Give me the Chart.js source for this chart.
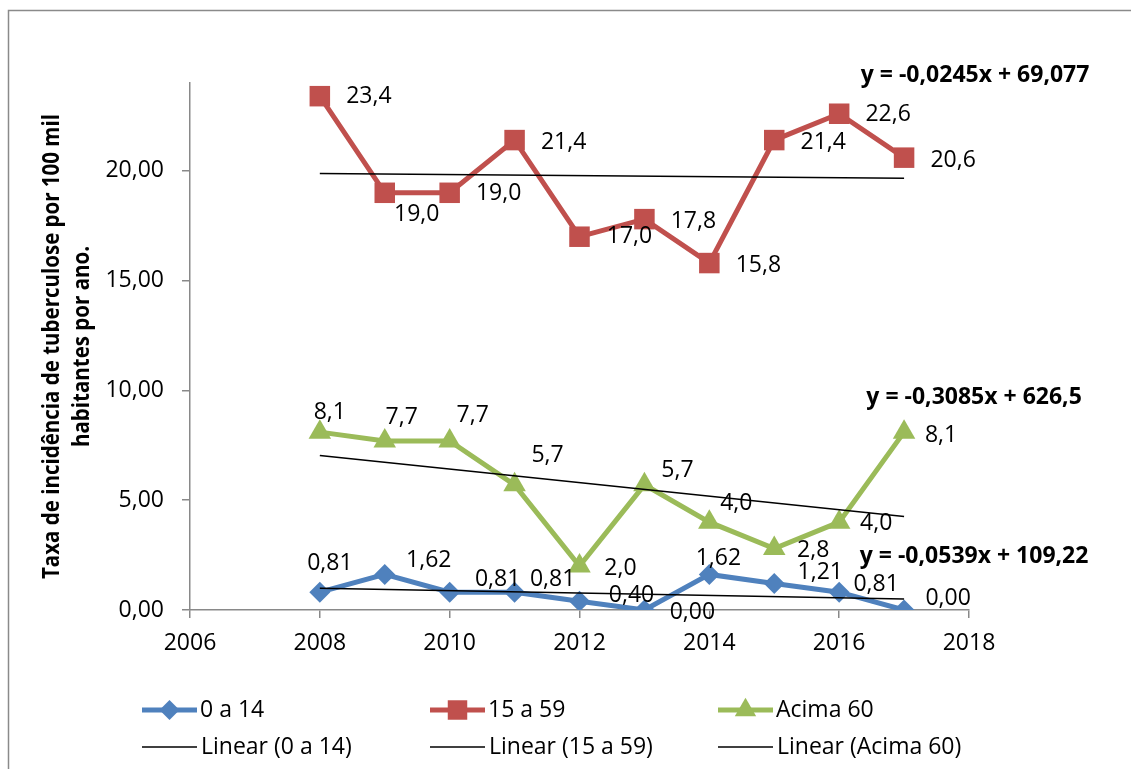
<!DOCTYPE html>
<html>
<head>
<meta charset="utf-8">
<script src="https://cdn.jsdelivr.net/npm/chart.js@4.4.1/dist/chart.umd.min.js"></script>
<style>
html,body{margin:0;padding:0;background:#ffffff;}
#wrap{width:1131px;height:769px;position:relative;overflow:hidden;}
</style>
</head>
<body>
<div id="wrap"><canvas id="c" width="1131" height="769"></canvas></div>
<script>
// ---------- data ----------
const years = [2008, 2009, 2010, 2011, 2012, 2013, 2014, 2015, 2016, 2017];
const serie0a14 = [0.81, 1.62, 0.81, 0.81, 0.40, 0.00, 1.62, 1.21, 0.81, 0.00];
const serie15a59 = [23.4, 19.0, 19.0, 21.4, 17.0, 17.8, 15.8, 21.4, 22.6, 20.6];
const serieAcima60 = [8.1, 7.7, 7.7, 5.7, 2.0, 5.7, 4.0, 2.8, 4.0, 8.1];
const seriesNames = ['0 a 14', '15 a 59', 'Acima 60'];
const trendNames = ['Linear (0 a 14)', 'Linear (15 a 59)', 'Linear (Acima 60)'];
const trendSlopes = [-0.0539, -0.0245, -0.3085];
const trendIntercepts = [109.22, 69.077, 626.5];
const trendLabels = ['y = -0,0539x + 109,22', 'y = -0,0245x + 69,077', 'y = -0,3085x + 626,5'];
const xTickValues = [2006, 2008, 2010, 2012, 2014, 2016, 2018];
const yTickValues = [0, 5, 10, 15, 20];
const yTitleLines = ['Taxa de incidência de tuberculose por 100 mil', 'habitantes por ano.'];

// ---------- styles ----------
const seriesValues = [serie0a14, serie15a59, serieAcima60];
const seriesColors = ['#4F81BD', '#C0504D', '#9BBB59'];
const seriesPointStyles = ['rectRot', 'rect', 'triangle'];
const seriesPointRadius = [10.5, 14.5, 13];
const seriesDecimals = [2, 1, 1];
// label centre offsets (px) relative to each point
const labelOffsets = [
  [[10,-29],[44,-14],[48,-13],[38,-13],[52,-6],[48,2],[9,-16],[46,-11],[37,-8],[44,-12]],
  [[49,0],[32,22],[49,1],[49,2],[50,0],[49,2],[49,2],[49,2],[49,1],[49,3]],
  [[10,-20],[17,-23],[23,-25],[33,-29],[41,2],[33,-14],[27,-19],[39,2],[37,1],[37,3]]
];
const eqOffsets = [[70,-42],[71,-103],[70,-119]];
const FONT = '"Open Sans", "Noto Sans", sans-serif';
const FS = 23;
const axisColor = '#898989';

function fmt(v, d) { return v.toFixed(d).replace('.', ','); }

const datasets = [];
seriesValues.forEach((vals, i) => {
  datasets.push({
    label: seriesNames[i],
    data: years.map((y, k) => ({x: y, y: vals[k]})),
    borderColor: seriesColors[i],
    backgroundColor: seriesColors[i],
    borderWidth: 5,
    pointStyle: seriesPointStyles[i],
    pointRadius: seriesPointRadius[i],
    pointBorderWidth: 0,
    pointBackgroundColor: seriesColors[i],
    tension: 0,
    order: 2,
    isSeries: true,
    seriesIndex: i
  });
});
seriesValues.forEach((vals, i) => {
  const x0 = years[0], x1 = years[years.length - 1];
  datasets.push({
    label: trendNames[i],
    data: [x0, x1].map(x => ({x: x, y: trendSlopes[i] * x + trendIntercepts[i]})),
    borderColor: '#000000',
    borderWidth: 1.5,
    pointRadius: 0,
    tension: 0,
    order: 1,
    isTrend: true,
    seriesIndex: i
  });
});

function drawMarker(ctx, style, x, y, r, color) {
  ctx.save();
  ctx.fillStyle = color;
  ctx.beginPath();
  if (style === 'rect') {
    const s = r * Math.SQRT1_2;
    ctx.rect(x - s, y - s, 2 * s, 2 * s);
  } else if (style === 'rectRot') {
    ctx.moveTo(x - r, y); ctx.lineTo(x, y - r); ctx.lineTo(x + r, y); ctx.lineTo(x, y + r); ctx.closePath();
  } else {
    const a = 2 * Math.PI / 3;
    ctx.moveTo(x, y - r);
    ctx.lineTo(x + Math.sin(a) * r, y - Math.cos(a) * r);
    ctx.lineTo(x + Math.sin(2 * a) * r, y - Math.cos(2 * a) * r);
    ctx.closePath();
  }
  ctx.fill();
  ctx.restore();
}

const extrasPlugin = {
  id: 'extras',
  afterDraw(chart) {
    const ctx = chart.ctx;
    // outer frame
    ctx.save();
    ctx.strokeStyle = '#8a8a8a';
    ctx.lineWidth = 1.5;
    ctx.strokeRect(8.5, 10.5, 1140, 800);
    ctx.restore();

    // data labels
    ctx.save();
    ctx.font = FS + 'px ' + FONT;
    ctx.fillStyle = '#000';
    ctx.textAlign = 'center';
    ctx.textBaseline = 'middle';
    chart.data.datasets.forEach((ds, di) => {
      const meta = chart.getDatasetMeta(di);
      if (ds.isSeries) {
        const s = ds.seriesIndex;
        meta.data.forEach((pt, k) => {
          const o = labelOffsets[s][k];
          ctx.fillText(fmt(seriesValues[s][k], seriesDecimals[s]), pt.x + o[0], pt.y + o[1]);
        });
      }
    });
    ctx.restore();

    // trend equations
    ctx.save();
    ctx.font = 'bold ' + FS + 'px ' + FONT;
    ctx.fillStyle = '#000';
    ctx.textAlign = 'center';
    ctx.textBaseline = 'middle';
    chart.data.datasets.forEach((ds, di) => {
      if (ds.isTrend) {
        const meta = chart.getDatasetMeta(di);
        const end = meta.data[meta.data.length - 1];
        const o = eqOffsets[ds.seriesIndex];
        ctx.fillText(trendLabels[ds.seriesIndex], end.x + o[0], end.y + o[1]);
      }
    });
    ctx.restore();

    // y-axis title (bold, horizontally condensed to match the narrow original face)
    const ca = chart.chartArea;
    const cy = (ca.top + ca.bottom) / 2;
    ctx.save();
    const target = 465;
    ctx.font = 'bold 23px ' + FONT;
    const w = ctx.measureText(yTitleLines[0]).width;
    const k = Math.min(1, target / w);
    ctx.fillStyle = '#000';
    ctx.textAlign = 'center';
    ctx.textBaseline = 'middle';
    ctx.translate(52, cy);
    ctx.rotate(-Math.PI / 2);
    ctx.scale(k, 1);
    ctx.fillText(yTitleLines[0], 0, 0);
    ctx.fillText(yTitleLines[1], 0, 30);
    ctx.restore();

    // legend
    ctx.save();
    ctx.font = FS + 'px ' + FONT;
    ctx.fillStyle = '#000';
    ctx.textAlign = 'left';
    ctx.textBaseline = 'middle';
    const rowY = [710, 747];
    for (let i = 0; i < 3; i++) {
      const x0 = 142 + i * 288;
      ctx.strokeStyle = seriesColors[i];
      ctx.lineWidth = 5;
      ctx.beginPath(); ctx.moveTo(x0, rowY[0]); ctx.lineTo(x0 + 55, rowY[0]); ctx.stroke();
      drawMarker(ctx, seriesPointStyles[i], x0 + 27.5, rowY[0], seriesPointRadius[i] * 0.95, seriesColors[i]);
      ctx.fillText(seriesNames[i], x0 + 58, rowY[0]);
      ctx.strokeStyle = '#000';
      ctx.lineWidth = 1.5;
      ctx.beginPath(); ctx.moveTo(x0, rowY[1]); ctx.lineTo(x0 + 55, rowY[1]); ctx.stroke();
      ctx.fillText(trendNames[i], x0 + 59, rowY[1]);
    }
    ctx.restore();
  }
};

new Chart(document.getElementById('c'), {
  type: 'line',
  data: { datasets: datasets },
  options: {
    responsive: false,
    animation: false,
    devicePixelRatio: 1,
    layout: { padding: { top: 83, right: 162, left: 0, bottom: 0 } },
    plugins: { legend: { display: false }, tooltip: { enabled: false }, title: { display: false } },
    elements: { line: { fill: false } },
    scales: {
      x: {
        type: 'linear',
        min: 2006, max: 2018,
        afterBuildTicks: s => { s.ticks = xTickValues.map(v => ({value: v})); },
        afterFit: s => { s.height = 159; },
        ticks: { callback: v => String(v), font: { family: FONT, size: FS }, color: '#000', padding: 12, maxRotation: 0, autoSkip: false },
        grid: { drawOnChartArea: false, drawTicks: true, tickLength: 8, color: axisColor, lineWidth: 1.5 },
        border: { color: axisColor, width: 1.5 }
      },
      y: {
        min: 0, max: 24,
        afterBuildTicks: s => { s.ticks = yTickValues.map(v => ({value: v})); },
        afterFit: s => { s.width = 190; },
        ticks: { callback: v => fmt(v, 2), font: { family: FONT, size: FS }, color: '#000', padding: 18 },
        grid: { drawOnChartArea: false, drawTicks: true, tickLength: 8, color: axisColor, lineWidth: 1.5 },
        border: { color: axisColor, width: 1.5 }
      }
    }
  },
  plugins: [extrasPlugin]
});
</script>
</body>
</html>
